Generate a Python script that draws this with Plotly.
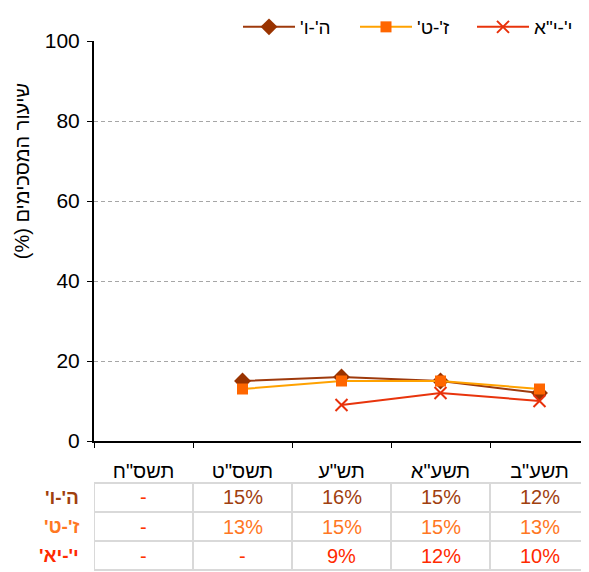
import plotly.graph_objects as go

RLM = "\u200f"

categories = ['תשס"ח', 'תשס"ט', 'תש"ע', 'תשע"א', 'תשע"ב']
series_names = ["ה'-ו'", "ז'-ט'", 'י\'-י"א']
row_labels = ["ה'-ו'", "ז'-ט'", "י'-יא'"]
he_vav = [None, 15, 16, 15, 12]
zayin_tet = [None, 13, 15, 15, 13]
yud_yudalef = [None, None, 9, 12, 10]
y_ticks = [0, 20, 40, 60, 80, 100]
y_title = "שיעור המסכימים (%)"

series_values = [he_vav, zayin_tet, yud_yudalef]
line_colors = ["#9E3A0C", "#FFA200", "#E8340C"]
marker_colors = ["#993300", "#FF6600", "#E8300A"]
marker_symbols = ["diamond", "square", "x-thin"]
marker_sizes = [13, 11, 12]
text_colors = ["#A0400E", "#FF7722", "#FF2A00"]
dash_color = "#FF3300"

FONT = "Arial, Liberation Sans, sans-serif"

fig = go.Figure()
for name, vals, lc, mc, sym, sz in zip(series_names, series_values, line_colors,
                                       marker_colors, marker_symbols, marker_sizes):
    marker = dict(symbol=sym, size=sz, color=mc)
    if sym == "x-thin":
        marker["line"] = dict(width=2, color=mc)
    else:
        marker["line"] = dict(width=0)
    fig.add_trace(go.Scatter(
        x=categories, y=vals, name=RLM + name + RLM, mode="lines+markers",
        line=dict(color=lc, width=2), marker=marker, connectgaps=False,
    ))

# table below the chart
row_centers = [-0.14125, -0.21375, -0.28625]
h_lines = [-0.105, -0.1775, -0.25, -0.3225]
grid_col = "#D9D9D9"
shapes = []
for hy in h_lines:
    shapes.append(dict(type="line", xref="x", yref="paper", x0=-0.5, x1=len(categories) - 0.5,
                       y0=hy, y1=hy, line=dict(color=grid_col, width=2)))
for i in range(len(categories) + 1):
    shapes.append(dict(type="line", xref="x", yref="paper", x0=i - 0.5, x1=i - 0.5,
                       y0=h_lines[0], y1=h_lines[-1], line=dict(color=grid_col, width=2)))

annotations = []
for r, (vals, tc, lab) in enumerate(zip(series_values, text_colors, row_labels)):
    annotations.append(dict(xref="paper", yref="paper", x=-0.026, y=row_centers[r],
                            xanchor="right", yanchor="middle", showarrow=False,
                            text="<b>" + RLM + lab + RLM + "</b>",
                            font=dict(family=FONT, size=19, color=tc)))
    for i, v in enumerate(vals):
        if v is None:
            txt, col = "-", dash_color
        else:
            txt, col = f"{v}%", tc
        annotations.append(dict(xref="x", yref="paper", x=i, y=row_centers[r],
                                xanchor="center", yanchor="middle", showarrow=False,
                                text=txt, font=dict(family=FONT, size=20, color=col)))

# y-axis title (placed as in the reference, above the axis centre)
annotations.append(dict(xref="paper", yref="paper", x=-0.145, y=0.675,
                        xanchor="center", yanchor="middle", showarrow=False,
                        textangle=-90, text=y_title + RLM,
                        font=dict(family=FONT, size=20, color="black")))

# the page body has an 8px margin, so the figure is sized/offset to compensate
fig.update_layout(
    width=581, height=564,
    margin=dict(l=86, r=0, t=33, b=131, autoexpand=False),
    paper_bgcolor="white", plot_bgcolor="white",
    font=dict(family=FONT, size=20, color="black"),
    showlegend=True,
    legend=dict(orientation="h", xref="container", yref="container",
                x=1.0, xanchor="right", y=1.0, yanchor="top",
                font=dict(family=FONT, size=19, color="black"),
                itemwidth=52, entrywidth=50, bgcolor="rgba(0,0,0,0)",
                traceorder="normal"),
    shapes=shapes, annotations=annotations,
    xaxis=dict(type="category", categoryorder="array", categoryarray=categories,
               range=[-0.5, len(categories) - 0.5], showline=True, linecolor="black",
               linewidth=2, ticks="outside", tickson="boundaries", ticklen=5,
               tickcolor="black", tickwidth=1, showgrid=False, zeroline=False,
               ticklabelstandoff=11, tickfont=dict(size=20), automargin=False),
    yaxis=dict(range=[0, 100], tickvals=y_ticks, showline=True, linecolor="black",
               linewidth=2, ticks="outside", ticklen=5, tickcolor="black",
               showgrid=True, gridcolor="#A6A6A6", griddash="4px,3px", gridwidth=1,
               zeroline=False, tickfont=dict(size=21), automargin=False,
               ticklabelstandoff=3),
)

fig.write_html("out.html")
